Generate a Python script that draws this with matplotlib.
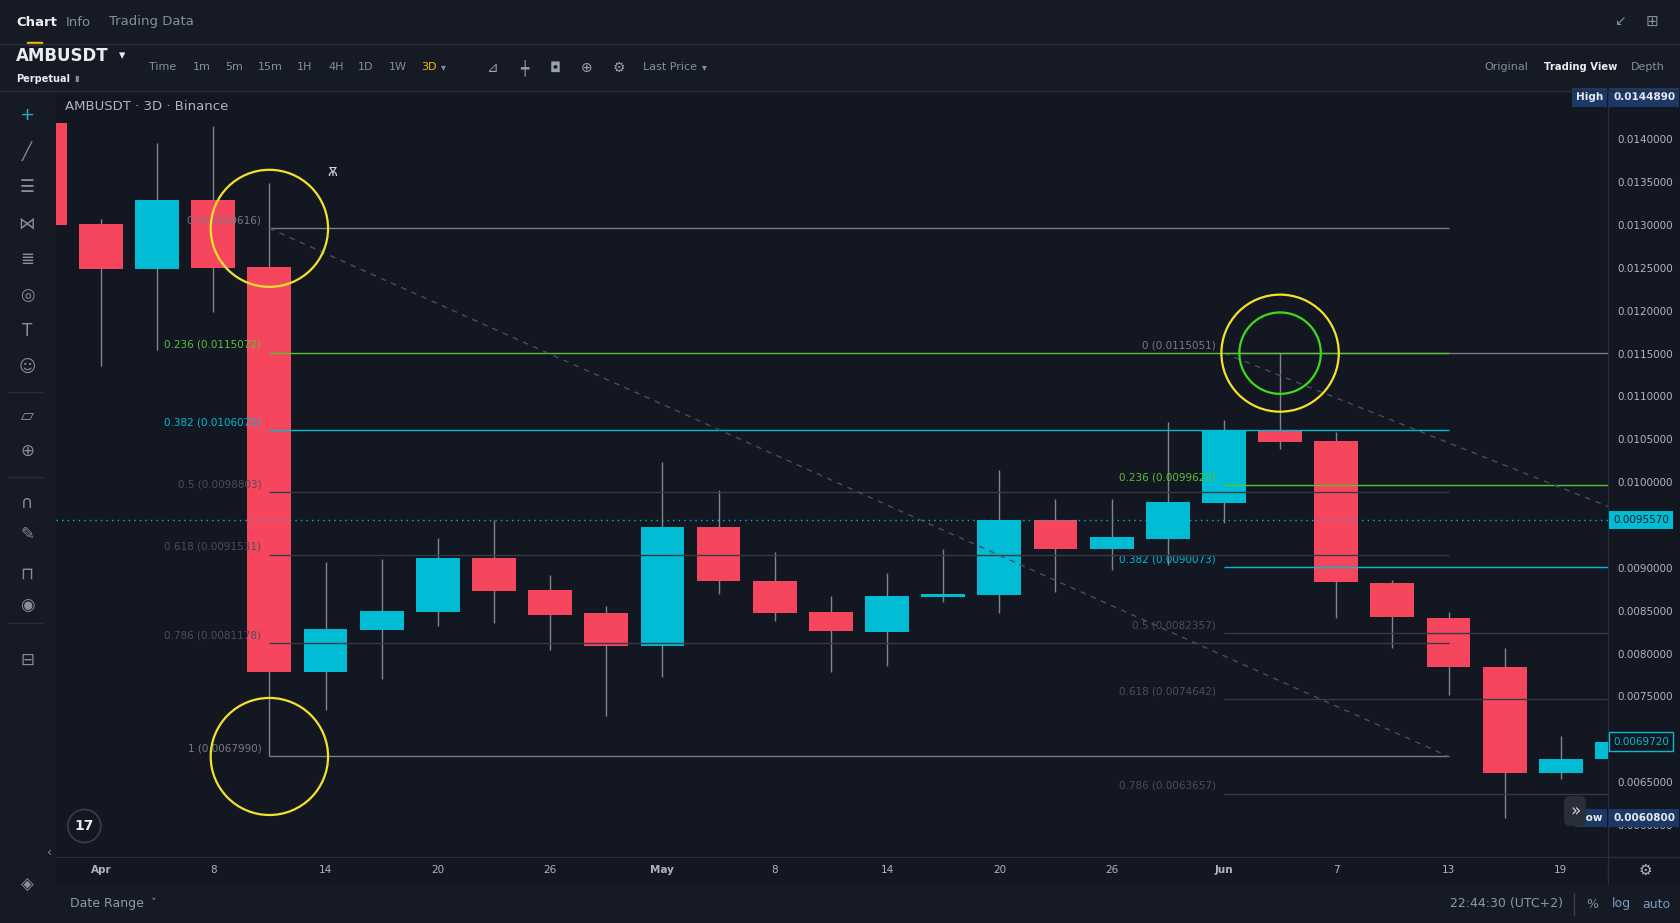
import numpy as np
import matplotlib
matplotlib.use("Agg")
import matplotlib.pyplot as plt
from matplotlib.patches import Ellipse, Circle, Rectangle
from matplotlib.lines import Line2D

# 3D candles, index 0 = Apr 2 (index -1 = Mar 30, cut at the left edge)
candle_idx = list(range(-1, 28))
opens = [0.014195, 0.013010, 0.012487, 0.013293, 0.012516, 0.007781, 0.008279, 0.008485,
         0.009114, 0.008742, 0.008471, 0.008091, 0.009471, 0.008843, 0.008483, 0.008254,
         0.008661, 0.008680, 0.009553, 0.009215, 0.009338, 0.009760, 0.010596, 0.010480,
         0.008825, 0.008420, 0.007847, 0.006606, 0.006774]
closes = [0.013001, 0.012487, 0.013293, 0.012504, 0.007781, 0.008285, 0.008496, 0.009114,
          0.008731, 0.008450, 0.008091, 0.009471, 0.008843, 0.008471, 0.008266, 0.008669,
          0.008692, 0.009553, 0.009215, 0.009355, 0.009769, 0.010605, 0.010471, 0.008830,
          0.008424, 0.007839, 0.006606, 0.006774, 0.006972]
highs = [0.014489, 0.013070, 0.013956, 0.014157, 0.013488, 0.009068, 0.009102, 0.009354,
         0.009564, 0.008914, 0.008552, 0.010239, 0.009913, 0.009181, 0.008669, 0.008936,
         0.009215, 0.010146, 0.009809, 0.009809, 0.010699, 0.010725, 0.0115051, 0.010583,
         0.008855, 0.008489, 0.008063, 0.007033, 0.007000]
lows = [0.012900, 0.011355, 0.011544, 0.011984, 0.006799, 0.007341, 0.007701, 0.008325,
        0.008359, 0.008039, 0.007277, 0.007730, 0.008696, 0.008382, 0.007789, 0.007858,
        0.008603, 0.008471, 0.008719, 0.008971, 0.009028, 0.009519, 0.010381, 0.008411,
        0.008063, 0.007516, 0.006080, 0.006533, 0.006720]

tick_idx = [0, 2, 4, 6, 8, 10, 12, 14, 16, 18, 20, 22, 24, 26]
tick_labels = ["Apr", "8", "14", "20", "26", "May", "8", "14", "20", "26", "Jun", "7", "13", "19"]
# 0.0070 and 0.0095 sit under the price boxes, so they are left out
price_ticks = [0.0060, 0.0065, 0.0075, 0.0080, 0.0085, 0.0090, 0.0100,
               0.0105, 0.0110, 0.0115, 0.0120, 0.0125, 0.0130, 0.0135, 0.0140]

# two fibonacci retracements drawn on the chart
fib_ratios = [0, 0.236, 0.382, 0.5, 0.618, 0.786, 1]
fib1_prices = [0.0129616, 0.0115072, 0.0106075, 0.0098803, 0.0091531, 0.0081178, 0.0067990]
fib1_span = (3, 24)
fib2_prices = [0.0115051, 0.0099620, 0.0090073, 0.0082357, 0.0074642, 0.0063657, 0.0049665]
fib2_span = (20, 45)

marked_price = 0.0095570
last_price = 0.0069720
high_price = 0.0144890
low_price = 0.0060800

W, H = 1680, 923
PANEL = "#161a25"
CHART = "#131722"
BORDER = "#2a2e39"
RED = "#f6465d"
CYAN = "#00bcd4"
WICK = "#80838d"
GREEN = "#5bc236"
YELLOW = "#f2e22c"
TXT = "#b2b5be"
GRAY = "#848e9c"

fig = plt.figure(figsize=(W / 100, H / 100), dpi=100, facecolor=PANEL)


def fx(x):
    return x / W


def fy(y):
    return 1 - y / H


def ftext(x, y, s, **kw):
    kw.setdefault("va", "center")
    kw.setdefault("color", GRAY)
    kw.setdefault("fontsize", 8)
    fig.text(fx(x), fy(y), s, **kw)


def fline(x0, y0, x1, y1, color=BORDER, lw=1):
    fig.add_artist(Line2D([fx(x0), fx(x1)], [fy(y0), fy(y1)], color=color, lw=lw,
                          transform=fig.transFigure))


# chart background incl. price / time scales
fig.add_artist(Rectangle((fx(56), fy(884)), fx(1680 - 56), (884 - 91) / H,
                         transform=fig.transFigure, color=CHART, zorder=0))

ax = fig.add_axes([fx(56), fy(857), fx(1608 - 56), (857 - 91) / H])
ax.set_facecolor(CHART)
ax.set_xlim(-0.80, 26.84)
ax.set_ylim(0.005626, 0.014564)
for s in ["top", "left"]:
    ax.spines[s].set_visible(False)
for s in ["right", "bottom"]:
    ax.spines[s].set_color(BORDER)

# candles
o = np.array(opens)
c = np.array(closes)
colors = np.where(c >= o, CYAN, RED)
ax.vlines(candle_idx, lows, highs, color=WICK, lw=1, zorder=2)
ax.bar(candle_idx, np.abs(c - o), bottom=np.minimum(o, c), width=0.78, color=colors,
       linewidth=0, zorder=3)

# fib drawings
line_cols = ["#787b86", GREEN, CYAN, "#363a45", "#363a45", "#363a45", "#787b86"]
label_cols = ["#787b86", GREEN, CYAN, "#4a4e59", "#4a4e59", "#4a4e59", "#787b86"]


def draw_fib(prices, span, z):
    for r, p, lc, tc in zip(fib_ratios, prices, line_cols, label_cols):
        ax.hlines(p, span[0], span[1], color=lc, lw=1, zorder=z)
        ax.annotate(f"{r:g} ({p:.7f})", xy=(span[0], p), xytext=(-8, 3),
                    textcoords="offset pixels", ha="right", va="bottom", color=tc,
                    fontsize=7.5, zorder=z)
    ax.plot([span[0], span[1]], [prices[0], prices[-1]], color="#4a4e5a", lw=1,
            linestyle=(0, (4, 4)), zorder=z)


draw_fib(fib2_prices, fib2_span, 4)
draw_fib(fib1_prices, fib1_span, 5)

ax.axhline(marked_price, color=CYAN, lw=1, linestyle=(0, (1, 3)), zorder=5)

# marker circles
for cx, cy, rx, ry, col in [(3, fib1_prices[0], 1.045, 0.000683, YELLOW),
                            (3, fib1_prices[-1], 1.045, 0.000683, YELLOW),
                            (21, fib2_prices[0], 1.045, 0.000683, YELLOW),
                            (21, fib2_prices[0], 0.725, 0.000475, "#3ddc17")]:
    ax.add_patch(Ellipse((cx, cy), 2 * rx, 2 * ry, fill=False, ec=col, lw=1.6, zorder=6))

ax.text(4.12, 0.013618, "Ѫ", color="#d1d4dc", fontsize=9, ha="center", va="center", zorder=6)

# axes ticks
ax.set_xticks(tick_idx)
ax.set_xticklabels(tick_labels)
for lab in ax.get_xticklabels():
    if lab.get_text() in ("Apr", "May", "Jun"):
        lab.set_fontweight("bold")
ax.tick_params(axis="x", length=0, pad=6, labelsize=7.5, labelcolor=TXT)
ax.yaxis.tick_right()
ax.set_yticks(price_ticks)
ax.set_yticklabels([f"{v:.7f}" for v in price_ticks])
ax.tick_params(axis="y", length=0, pad=7, labelsize=7.5, labelcolor=TXT)

ytr = ax.get_yaxis_transform()


def price_box(p, s, fc, tc, ec="none", dx=5, ha="left", bold=False):
    ax.annotate(s, xy=(1, p), xycoords=ytr, xytext=(dx, 0), textcoords="offset pixels",
                ha=ha, va="center", fontsize=7.5, color=tc,
                fontweight="bold" if bold else "normal",
                bbox=dict(boxstyle="square,pad=0.4", fc=fc, ec=ec, lw=1),
                annotation_clip=False, zorder=10)


price_box(marked_price, f"{marked_price:.7f}", CYAN, CHART)
price_box(last_price, f"{last_price:.7f}", CHART, CYAN, ec=CYAN)
price_box(high_price, f"{high_price:.7f}", "#1c3866", "#e6e8ee", bold=True)
price_box(high_price, "High", "#1c3866", "#e6e8ee", dx=-5, ha="right", bold=True)
price_box(low_price, f"{low_price:.7f}", "#1c3866", "#e6e8ee", bold=True)
price_box(low_price, "Low", "#1c3866", "#e6e8ee", dx=-5, ha="right", bold=True)

# frame lines
fline(0, 44, W, 44)
fline(0, 90.5, W, 90.5)
fline(1608, 857, 1608, 884)
fline(1608, 857, W, 857)
fline(1574, 893, 1574, 915, color="#3a3e49")
fline(8, 392, 43, 392)
fline(8, 477, 43, 477)
fline(8, 623, 43, 623)

# header
ftext(16, 22, "Chart", color="#eaecef", fontsize=9.5, fontweight="bold")
ftext(66, 22, "Info", fontsize=9.5)
ftext(109, 22, "Trading Data", fontsize=9.5)
fig.add_artist(Rectangle((fx(27), fy(44)), fx(15), 2.5 / H, transform=fig.transFigure,
                         color="#f0b90b"))
ftext(1620, 21, "↙", fontsize=10, ha="center")
ftext(1652, 21, "⊞", fontsize=11, ha="center")

ftext(16, 56, "AMBUSDT", color="#eaecef", fontsize=12, fontweight="bold")
ftext(119, 56, "▾", color="#eaecef", fontsize=9)
ftext(16, 79, "Perpetual", color="#eaecef", fontsize=7, fontweight="bold")
ftext(74, 78, "▮", fontsize=6)
for x, s in [(149, "Time"), (193, "1m"), (225, "5m"), (258, "15m"), (297, "1H"),
             (328, "4H"), (358, "1D"), (389, "1W")]:
    ftext(x, 67.5, s, fontsize=8)
ftext(421, 67.5, "3D", color="#f0b90b", fontsize=8)
ftext(441, 67.5, "▾", fontsize=7)
for x, s in [(492, "⊿"), (524, "┿"), (555, "◘"), (587, "⊕"), (619, "⚙")]:
    ftext(x, 67.5, s, fontsize=10, ha="center", color="#9aa0ab")
ftext(643, 67.5, "Last Price", fontsize=8)
ftext(702, 67.5, "▾", fontsize=7)
ftext(1484, 67.5, "Original", fontsize=8)
ftext(1544, 67.5, "Trading View", color="#eaecef", fontsize=7.2, fontweight="bold")
ftext(1631, 67.5, "Depth", fontsize=8)

ftext(65, 107, "AMBUSDT · 3D · Binance", color=TXT, fontsize=9.5)

# left drawing toolbar
icons = ["+", "╱", "☰", "⋈", "≣", "◎", "T", "☺", "▱", "⊕", "∩", "✎", "⊓", "◉", "⊟"]
icon_y = [115, 151, 187, 223, 259, 295, 331, 367, 416, 451, 502, 534, 574, 605, 660]
for s, y in zip(icons, icon_y):
    ftext(27, y, s, fontsize=13 if s == "+" else 12, ha="center",
          color="#2ea8c7" if s == "+" else "#8a8e99")
ftext(27, 885, "◈", fontsize=12, ha="center", color="#8a8e99")
ftext(50, 852, "‹", fontsize=9, ha="center", color="#8a8e99")

# TradingView logo + scroll button + gear
fig.add_artist(Circle((0.843, (H - 826) / 100), 0.165, transform=fig.dpi_scale_trans,
                      fc="#131722", ec="#3a3e49", lw=1.2))
ftext(84, 826, "17", color="#eaecef", fontsize=10, fontweight="bold", ha="center")
ftext(1575, 811, "»", color="#d1d4dc", fontsize=12, ha="center",
      bbox=dict(boxstyle="round,pad=0.35", fc="#2a2e39", ec="none"))
ftext(1645, 870, "⚙", color="#b2b5be", fontsize=11, ha="center")

# bottom bar
ftext(70, 904, "Date Range", color="#8b99ae", fontsize=9)
ftext(151, 903, "˅", color="#8b99ae", fontsize=8)
ftext(1563, 904, "22:44:30 (UTC+2)", color="#8b99ae", fontsize=9, ha="right")
ftext(1592, 904, "%", color=GRAY, fontsize=9, ha="center")
ftext(1621, 904, "log", color="#7b9cc0", fontsize=9, ha="center")
ftext(1656, 904, "auto", color="#7b9cc0", fontsize=9, ha="center")

fig.savefig("out.png", dpi=100, facecolor=PANEL)
